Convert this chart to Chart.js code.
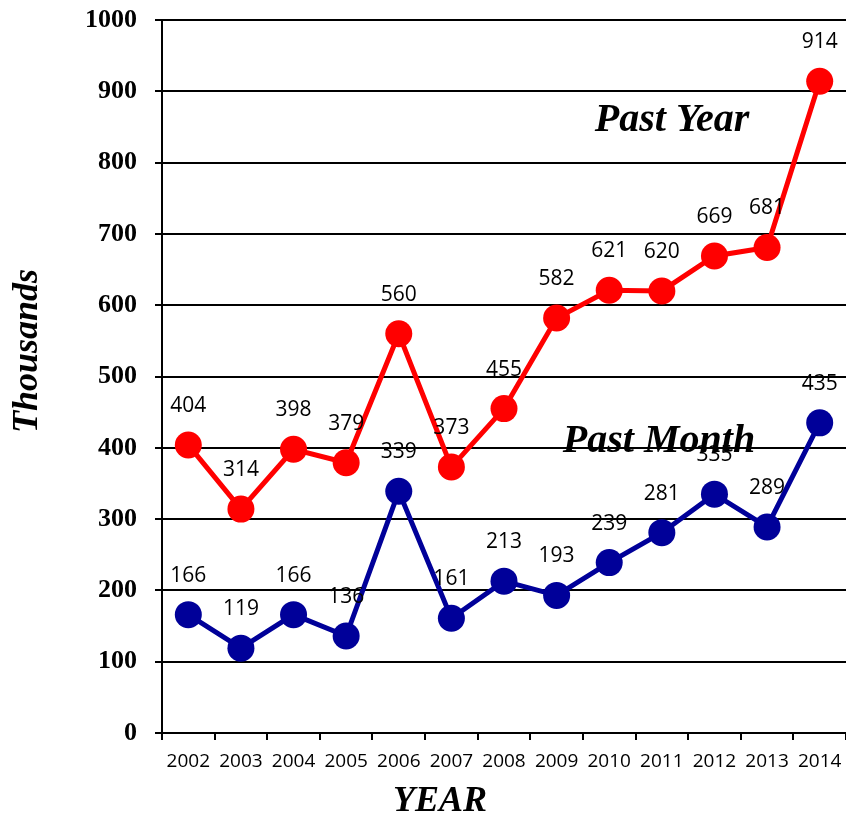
<!DOCTYPE html>
<html>
<head>
<meta charset="utf-8">
<script src="https://cdn.jsdelivr.net/npm/chart.js@4.4.1/dist/chart.umd.min.js"></script>
<style>
  html, body { margin: 0; padding: 0; background: #fff; }
  #wrap { width: 846px; height: 815px; position: relative; }
</style>
</head>
<body>
<div id="wrap"><canvas id="c" width="846" height="815"></canvas></div>
<script>
const years = ['2002','2003','2004','2005','2006','2007','2008','2009','2010','2011','2012','2013','2014'];
const pastYear = [404, 314, 398, 379, 560, 373, 455, 582, 621, 620, 669, 681, 914];
const pastMonth = [166, 119, 166, 136, 339, 161, 213, 193, 239, 281, 335, 289, 435];
const yTicks = [0, 100, 200, 300, 400, 500, 600, 700, 800, 900, 1000];

const RED = '#ff0000';
const BLUE = '#000099';

const overlay = {
  id: 'overlay',
  afterDatasetsDraw(chart) {
    const ctx = chart.ctx;
    const ys = chart.scales.y;
    ctx.save();
    // data labels
    ctx.fillStyle = '#000';
    ctx.font = '21px "Open Sans"';
    ctx.textAlign = 'center';
    ctx.textBaseline = 'middle';
    chart.data.datasets.forEach((ds, di) => {
      const meta = chart.getDatasetMeta(di);
      meta.data.forEach((el, i) => {
        ctx.fillText(String(ds.data[i]), el.x, el.y - 39);
      });
    });
    // series annotations
    ctx.font = 'italic bold 40px "Liberation Serif"';
    ctx.textBaseline = 'alphabetic';
    ctx.fillText('Past Year', 672, ys.getPixelForValue(845));
    ctx.fillText('Past Month', 659, ys.getPixelForValue(394));
    // axis titles
    ctx.font = 'italic bold 36px "Liberation Serif"';
    ctx.fillText('YEAR', 440, 811);
    ctx.translate(28, 351);
    ctx.rotate(-Math.PI / 2);
    ctx.textBaseline = 'middle';
    ctx.fillText('Thousands', 0, 0);
    ctx.restore();
  }
};

new Chart(document.getElementById('c'), {
  type: 'line',
  data: {
    labels: years,
    datasets: [
      {
        label: 'Past Year',
        data: pastYear,
        borderColor: RED,
        backgroundColor: RED,
        pointBackgroundColor: RED,
        pointBorderColor: RED,
        borderWidth: 5,
        pointRadius: 13.5,
        pointBorderWidth: 0,
        pointHoverRadius: 13.5,
        tension: 0
      },
      {
        label: 'Past Month',
        data: pastMonth,
        borderColor: BLUE,
        backgroundColor: BLUE,
        pointBackgroundColor: BLUE,
        pointBorderColor: BLUE,
        borderWidth: 5,
        pointRadius: 13.5,
        pointBorderWidth: 0,
        pointHoverRadius: 13.5,
        tension: 0
      }
    ]
  },
  options: {
    responsive: false,
    maintainAspectRatio: false,
    animation: false,
    events: [],
    layout: { autoPadding: false, padding: { top: 20, right: 0, bottom: 0, left: 0 } },
    plugins: {
      legend: { display: false },
      tooltip: { enabled: false },
      title: { display: false }
    },
    scales: {
      x: {
        type: 'category',
        offset: true,
        grid: {
          offset: true,
          drawOnChartArea: false,
          drawTicks: true,
          tickLength: 7,
          color: '#000',
          lineWidth: 2
        },
        border: { display: true, color: '#000', width: 2 },
        ticks: {
          color: '#000',
          font: { family: '"Open Sans"', size: 19 },
          padding: 10,
          maxRotation: 0,
          autoSkip: false
        },
        afterFit(scale) {
          scale.height = 82;
          scale.paddingLeft = 0;
          scale.paddingRight = 0;
        }
      },
      y: {
        min: 0,
        max: 1000,
        afterBuildTicks(scale) { scale.ticks = yTicks.map(v => ({ value: v })); },
        grid: {
          color: '#000',
          lineWidth: 2,
          drawTicks: true,
          tickLength: 7
        },
        border: { display: true, color: '#000', width: 2 },
        ticks: {
          color: '#000',
          font: { family: '"Liberation Serif"', size: 26, weight: 'bold' },
          padding: 18,
          callback: (v) => String(v)
        },
        afterFit(scale) {
          scale.width = 162;
          scale.paddingTop = 0;
          scale.paddingBottom = 0;
        }
      }
    }
  },
  plugins: [overlay]
});
</script>
</body>
</html>
